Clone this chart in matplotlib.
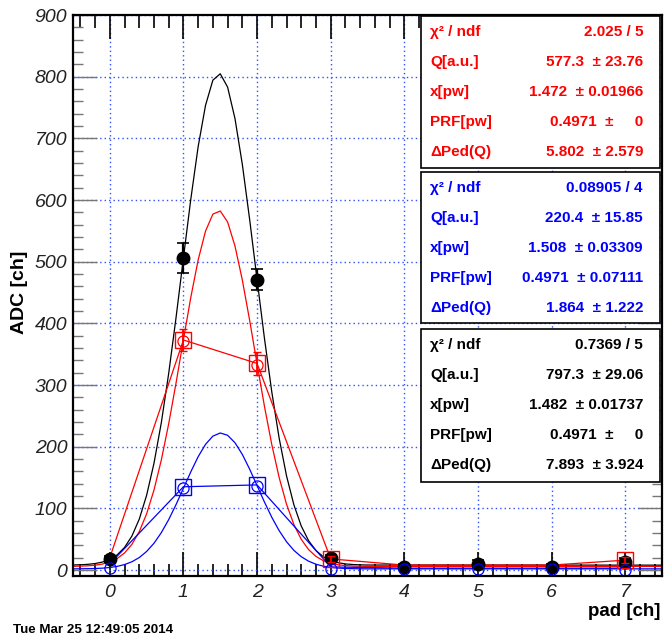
import numpy as np
import matplotlib
matplotlib.use("Agg")
import matplotlib.pyplot as plt
from matplotlib.patches import Rectangle
from matplotlib.ticker import MultipleLocator

plt.rcParams['font.family'] = ['Liberation Sans', 'DejaVu Sans']

# ---------------- data ----------------
pads = [0, 1, 2, 3, 4, 5, 6, 7]
black_adc = [18, 506, 471, 19, 5, 10, 5, 13]
black_err = [5, 24, 17, 5, 4, 6, 4, 6]

red_sq_pads = [1, 2, 3, 7]
red_sq_adc = [373, 335, 18, 16]
red_sq_err = [18, 18, 5, 5]
red_circ_pads = [1, 2]
red_circ_adc = [372, 333]
red_line_adc = [20, 373, 335, 18, 8, 8, 8, 16]

blue_sq_pads = [1, 2]
blue_sq_adc = [135, 138]
blue_circ_adc = [3, 133, 137, 2, 1, 1, 1, 0]
blue_line_adc = [10, 135, 138, 5, 3, 3, 3, 3]

# fit curves sampled at x = -0.5 ... 3.5 (step 0.1) and 7.5
fit_x = [round(-0.5 + 0.1 * i, 1) for i in range(41)] + [7.5]
black_fit = [8.2, 8.5, 9.2, 10.5, 12.9, 17.3, 24.6, 36.6, 55.1, 82.5, 121.2,
             173.1, 239.2, 319.0, 409.7, 506.2, 601.3, 686.7, 753.5, 794.4,
             804.7, 783.0, 732.1, 657.7, 567.8, 471.1, 376.0, 288.8, 213.8,
             152.8, 105.8, 71.4, 47.5, 31.6, 21.5, 15.4, 11.9, 9.9, 8.9, 8.4,
             8.1, 7.9]
red_fit = [6.0, 6.3, 6.8, 7.8, 9.7, 13.0, 18.6, 27.7, 41.6, 62.2, 91.1, 129.7,
           178.6, 237.3, 303.6, 373.6, 442.1, 502.9, 549.6, 577.1, 582.2,
           564.3, 525.4, 470.2, 404.3, 334.2, 265.7, 203.4, 150.0, 106.8,
           73.8, 49.8, 33.1, 22.1, 15.1, 10.9, 8.5, 7.2, 6.5, 6.1, 5.9, 5.8]
blue_fit = [1.9, 2.0, 2.2, 2.5, 3.0, 4.1, 5.9, 8.8, 13.4, 20.2, 30.1, 43.4,
            60.7, 81.8, 106.2, 132.6, 159.2, 183.8, 203.8, 217.1, 222.2,
            218.5, 206.4, 187.4, 163.4, 136.9, 110.3, 85.5, 63.8, 45.9, 31.9,
            21.6, 14.3, 9.4, 6.2, 4.3, 3.2, 2.5, 2.2, 2.0, 1.9, 1.9]

stat_labels = ["χ² / ndf", "Q[a.u.]", "x[pw]", "PRF[pw]", "ΔPed(Q)"]
red_stats = ["2.025 / 5", "577.3  ± 23.76", "1.472  ± 0.01966", "0.4971  ±     0", "5.802  ± 2.579"]
blue_stats = ["0.08905 / 4", "220.4  ± 15.85", "1.508  ± 0.03309", "0.4971  ± 0.07111", "1.864  ± 1.222"]
black_stats = ["0.7369 / 5", "797.3  ± 29.06", "1.482  ± 0.01737", "0.4971  ±     0", "7.893  ± 3.924"]

RED = '#ff0000'
BLUE = '#0000ff'
BLACK = '#000000'

W, H = 665, 639
fig = plt.figure(figsize=(W / 100, H / 100), dpi=100)
fig.patch.set_facecolor('white')

def fx(px):
    return px / W

def fy(py):
    return 1 - py / H

ax = fig.add_axes([fx(73), fy(576), fx(662) - fx(73), fy(15) - fy(576)])
ax.set_xlim(-0.5, 7.5)
ax.set_ylim(-9.7, 900)

# grid
ax.set_xticks(range(0, 8))
ax.set_yticks(range(0, 901, 100))
ax.xaxis.set_minor_locator(MultipleLocator(0.2))
ax.yaxis.set_minor_locator(MultipleLocator(20))
ax.grid(True, which='major', color='#3050ff', linestyle=(0, (1, 2.2)), linewidth=1.0)
ax.set_axisbelow(True)

lw = 0.9
# fits
ax.plot(fit_x, black_fit, color=BLACK, lw=lw, zorder=3)
ax.plot(fit_x, red_fit, color=RED, lw=lw, zorder=3)
ax.plot(fit_x, blue_fit, color=BLUE, lw=lw, zorder=3)
# polylines
ax.plot(pads, red_line_adc, color=RED, lw=lw, zorder=3)
ax.plot(pads, blue_line_adc, color=BLUE, lw=lw, zorder=3)

# black points
ax.errorbar(pads, black_adc, yerr=black_err, fmt='o', color=BLACK, ms=9,
            elinewidth=1.6, capsize=4, capthick=1.2, zorder=5)
# red
ax.errorbar(red_sq_pads, red_sq_adc, yerr=red_sq_err, fmt='s', color=RED,
            mfc='none', mec=RED, ms=11, mew=1.0, elinewidth=1.3, capsize=3,
            capthick=1.0, zorder=6)
ax.plot(red_circ_pads, red_circ_adc, 'o', mfc='none', mec=RED, ms=8, mew=0.9, zorder=6)
# blue
ax.plot(blue_sq_pads, blue_sq_adc, 's', mfc='none', mec=BLUE, ms=11, mew=1.0, zorder=7)
ax.plot(pads, blue_circ_adc, 'o', mfc='none', mec=BLUE, ms=8, mew=0.9, zorder=7)

# ticks and spines
for s in ax.spines.values():
    s.set_linewidth(1.6)
    s.set_color('black')
    s.set_zorder(8)
ax.tick_params(axis='both', which='both', direction='in', top=True, right=True)
ax.tick_params(axis='x', which='major', length=17, width=1.2, color='black', pad=6)
ax.tick_params(axis='x', which='minor', length=9, width=1.2, color='black')
ax.tick_params(axis='y', which='major', length=17, width=1.0, color='#777777', pad=4)
ax.tick_params(axis='y', which='minor', length=7, width=1.0, color='#777777')
for lab in ax.get_xticklabels() + ax.get_yticklabels():
    lab.set_fontstyle('italic')
    lab.set_fontsize(14)
    lab.set_color('#222222')

# axis titles
fig.text(fx(20), fy(292), "ADC [ch]", rotation=90, ha='center', va='center',
         fontsize=14, fontweight='bold')
fig.text(fx(660), fy(612), "pad [ch]", ha='right', va='center',
         fontsize=13.5, fontweight='bold')
fig.text(fx(13), fy(630), "Tue Mar 25 12:49:05 2014", ha='left', va='center',
         fontsize=9.6, fontweight='bold')

# stat boxes
def stat_box(top, bottom, color, values):
    rect = Rectangle((fx(421), fy(bottom)), fx(660) - fx(421), fy(top) - fy(bottom),
                     transform=fig.transFigure, facecolor='white',
                     edgecolor='black', linewidth=1.2, zorder=10)
    fig.add_artist(rect)
    for i, (lab, val) in enumerate(zip(stat_labels, values)):
        yy = top + 16 + 30 * i
        fig.text(fx(430), fy(yy), lab, ha='left', va='center', color=color,
                 fontsize=11, fontweight='bold', zorder=11)
        fig.text(fx(643), fy(yy), val, ha='right', va='center', color=color,
                 fontsize=11, fontweight='bold', zorder=11)

stat_box(16, 168, RED, red_stats)
stat_box(172, 323, BLUE, blue_stats)
stat_box(329, 482, BLACK, black_stats)

fig.savefig("out.png", dpi=100)
